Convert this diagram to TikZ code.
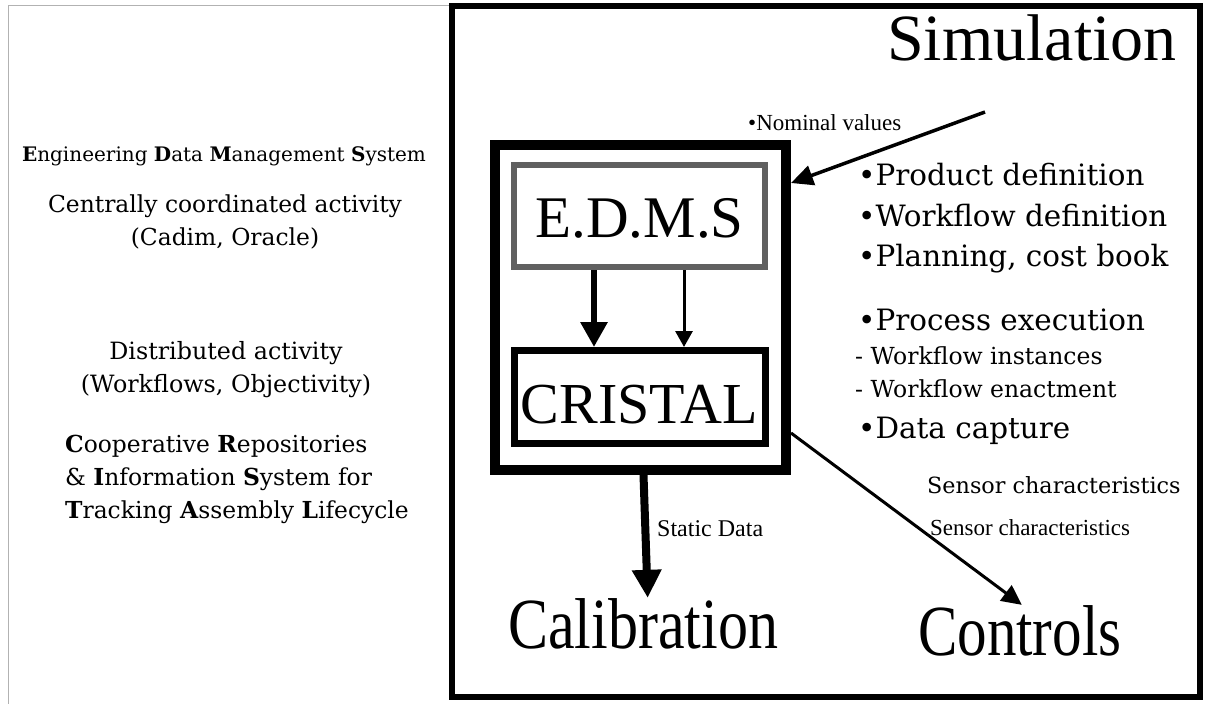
\documentclass[tikz,border=0pt]{standalone}
\usepackage{fontspec}
\usepackage{graphicx}
\usepackage{tikz}
\usetikzlibrary{arrows.meta}
\newfontfamily\timesfont{Liberation Serif}
\newfontfamily\palfont{DejaVu Serif}
\definecolor{boxgray}{RGB}{96,96,96}

\tikzset{
  txt/.style={inner sep=0pt, anchor=base west},
  mid/.style={inner sep=0pt, anchor=base},
  tnr/.style={font=\timesfont\fontsize{#1}{#1}\selectfont},
  pal/.style={font=\palfont\fontsize{#1}{33}\selectfont},
  fat/.style={line width=6pt, -{Triangle[length=25pt,width=26pt]}},
  slim/.style={line width=3pt, -{Triangle[length=16pt,width=17pt]}},
}

\begin{document}
\begin{tikzpicture}[x=1pt,y=-1pt]
\useasboundingbox (0,0) rectangle (1208,704);

\draw[gray!60, line width=1pt] (8,704) -- (8,5) -- (452,5);

\node[draw, line width=6pt, minimum width=748pt, minimum height=691pt] (outer) at (826,351.5) {};
\node[draw, line width=10pt, minimum width=291pt, minimum height=325pt] (frame) at (640.5,307.5) {};
\node[draw=boxgray, line width=6pt, minimum width=251pt, minimum height=102pt, tnr=59, text height=42pt, text depth=0pt] (edms) at (639.5,216) {E.D.M.S};
\node[draw, line width=7pt, minimum width=251pt, minimum height=93pt, tnr=58, text height=52pt, text depth=0pt] (cristal) at (639.5,397) {CRISTAL};

\draw[fat] ([xshift=-45.5pt]edms.south) -- ([xshift=-45.5pt]cristal.north);
\draw[slim] ([xshift=44.5pt]edms.south) -- ([xshift=44.5pt]cristal.north);

\node[txt, tnr=66] (sim) at (887,60) {Simulation};
\node[txt, tnr=60] (calib) at (508,648) {\scalebox{1}[1.2]{Calibration}};
\node[txt, tnr=59] (ctrl) at (918,655) {\scalebox{1}[1.22]{Controls}};

\node[txt, tnr=23] (nominal) at (748,130) {\textbullet Nominal values};
\node[txt, tnr=24] (static) at (657,536) {Static Data};

\coordinate (nomstart) at (985,112);
\draw[line width=3.5pt, -{Triangle[length=22pt,width=20pt]}] (nomstart) -- ([yshift=124.5pt]frame.east);
\draw[fat, line width=8pt, -{Triangle[length=28pt,width=28pt]}] ([xshift=3pt]frame.south) -- ([xshift=4.5pt]calib.north);
\draw[line width=3pt, -{Triangle[length=20pt,width=19pt]}] ([yshift=-125.5pt]frame.east) -- ([xshift=2pt]ctrl.north);

\node[txt, pal=29.4] (prod) at (858,185) {\textbullet Product definition};
\node[txt, pal=29.4] (wfdef) at (858,226) {\textbullet Workflow definition};
\node[txt, pal=29.4] (plan) at (858,266) {\textbullet Planning, cost book};
\node[txt, pal=29.4] (proc) at (858,330) {\textbullet Process execution};
\node[txt, pal=23.5] (wfinst) at (855,364) {- Workflow instances};
\node[txt, pal=23.5] (wfenact) at (855,397) {- Workflow enactment};
\node[txt, pal=29.4] (capture) at (858,438) {\textbullet Data capture};
\node[txt, pal=22.3] (sensa) at (927,493) {Sensor characteristics};
\node[txt, tnr=23] (sensb) at (930,535) {Sensor characteristics};

\node[mid, pal=20] (edmsname) at (224,161) {\textbf{E}ngineering \textbf{D}ata \textbf{M}anagement \textbf{S}ystem};
\node[mid, pal=23.4, align=center] (central) at (225,245) {Centrally coordinated activity\\(Cadim, Oracle)};
\node[mid, pal=23.8, align=center] (distrib) at (226,392) {Distributed activity\\(Workflows, Objectivity)};
\node[txt, pal=23.4, align=left] (crisname) at (65,518) {\textbf{C}ooperative \textbf{R}epositories\\\& \textbf{I}nformation \textbf{S}ystem for\\\textbf{T}racking \textbf{A}ssembly \textbf{L}ifecycle};
\end{tikzpicture}
\end{document}
